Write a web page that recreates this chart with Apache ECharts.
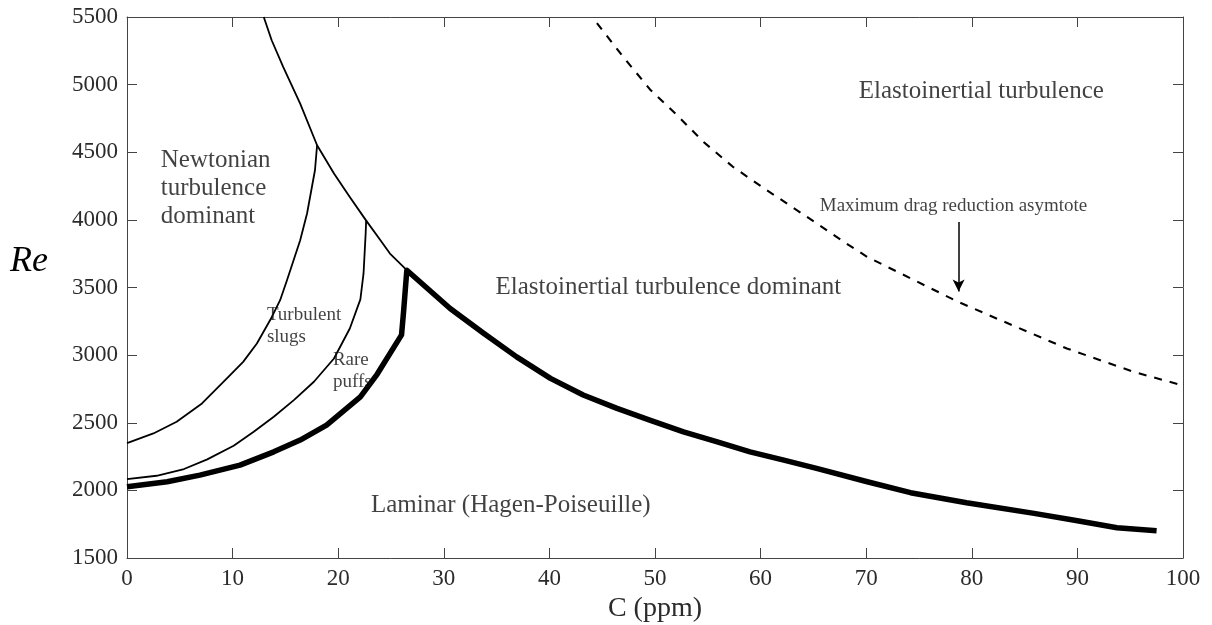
<!DOCTYPE html>
<html>
<head>
<meta charset="utf-8">
<script src="https://cdn.jsdelivr.net/npm/echarts@6/dist/echarts.min.js"></script>
<style>
html,body{margin:0;padding:0;background:#fff;}
#chart{width:1212px;height:625px;}
</style>
</head>
<body>
<div id="chart"></div>
<script>
// ---- data ----
const xTicks = [0,10,20,30,40,50,60,70,80,90,100];
const yTicks = [1500,2000,2500,3000,3500,4000,4500,5000,5500];

// upper (Newtonian / elastoinertial) boundary
const upperC  = [12.95, 13.7, 14.8, 16.4, 18.0, 19.6, 21.0, 22.6, 24.0, 24.9, 26.35];
const upperRe = [5500, 5328, 5130, 4860, 4552, 4343, 4180, 4000, 3850, 3751, 3640];

// turbulent slugs boundary
const slugC  = [0, 2.5, 4.7, 7.1, 9.6, 11.0, 12.3, 13.6, 14.5, 15.15, 16.4, 17.05, 17.8, 18.0];
const slugRe = [2350, 2421, 2507, 2643, 2840, 2950, 3086, 3265, 3406, 3554, 3850, 4047, 4367, 4552];

// rare puffs boundary
const puffC  = [0, 2.8, 5.4, 7.6, 10.1, 12.0, 13.9, 15.8, 17.7, 19.6, 21.1, 22.1, 22.4, 22.6, 22.65];
const puffRe = [2083, 2108, 2158, 2229, 2330, 2433, 2544, 2667, 2803, 2975, 3197, 3412, 3604, 3899, 4000];

// laminar boundary (thick)
const lamC  = [0, 3.8, 6.9, 10.7, 13.9, 16.4, 18.9, 22.1, 23.7, 26.0, 26.2, 26.35, 26.5, 30.6, 33.8, 36.9, 40.1, 43.2, 46.4, 49.5, 52.7, 55.9, 59.0, 62.2, 65.3, 70.1, 74.2, 79.5, 85.9, 90.0, 93.75, 97.5];
const lamRe = [2027, 2064, 2113, 2187, 2285, 2372, 2483, 2692, 2860, 3150, 3330, 3480, 3628, 3345, 3160, 2987, 2828, 2705, 2606, 2520, 2433, 2359, 2285, 2224, 2163, 2064, 1983, 1908, 1830, 1775, 1724, 1702];

// maximum drag reduction asymptote (dashed)
const mdrC  = [44.5, 47.0, 49.6, 52.1, 54.6, 57.4, 60.6, 63.8, 67.9, 70.1, 78.7, 82.7, 89.0, 95.3, 100];
const mdrRe = [5455, 5204, 4958, 4773, 4576, 4391, 4219, 4053, 3837, 3726, 3394, 3259, 3049, 2877, 2775];

// arrow
const arrowC  = [78.75, 78.75];
const arrowRe = [3985, 3470];

// annotations (anchor: left edge, vertical middle, data coords)
const annoText = ['Newtonian\nturbulence\ndominant', 'Elastoinertial turbulence dominant', 'Elastoinertial turbulence', 'Laminar (Hagen-Poiseuille)', 'Turbulent\nslugs', 'Rare\npuffs', 'Maximum drag reduction asymtote'];
const annoC    = [3.2, 34.9, 69.3, 23.1, 13.25, 19.5, 65.6];
const annoRe   = [4234, 3503, 4951, 1891, 3214, 2882, 4103];
const annoSize = ['big','big','big','big','small','small','small'];

// ---- chart ----
const FONT = 'Liberation Serif';
const AX = '#2b2b2b';
const pairs = (xs, ys) => xs.map((x, i) => [x, ys[i]]);

const chart = echarts.init(document.getElementById('chart'), null, {renderer: 'canvas'});

function lineSeries(xs, ys, width, type) {
  return {
    type: 'line', data: pairs(xs, ys), showSymbol: false, symbol: 'none',
    smooth: false, silent: true, clip: true,
    lineStyle: {color: '#000', width: width, type: type || 'solid', join: 'round', cap: 'butt'},
    z: 3
  };
}

const tickCommon = {show: true, inside: true, length: 10, lineStyle: {color: '#444', width: 1}};
const axLine = {show: true, onZero: false, lineStyle: {color: '#444', width: 1}};

const option = {
  animation: false,
  backgroundColor: '#fff',
  grid: {left: 127, right: 29, top: 17, bottom: 67, containLabel: false, outerBoundsMode: 'none'},
  graphic: [{
    type: 'text', x: 29, y: 262, silent: true,
    style: {text: 'Re', font: 'italic 36px "Liberation Serif"', fill: '#000', align: 'center', verticalAlign: 'middle'}
  }],
  xAxis: [
    {
      type: 'value', min: 0, max: 100, interval: 10, position: 'bottom',
      axisLine: axLine,
      axisTick: tickCommon,
      axisLabel: {show: true, fontFamily: FONT, fontSize: 23, color: AX, margin: 9,
        formatter: v => xTicks.includes(v) ? String(v) : ''},
      splitLine: {show: false},
      name: 'C (ppm)', nameLocation: 'middle', nameGap: 37,
      nameTextStyle: {fontFamily: FONT, fontSize: 28, color: AX}
    },
    {
      type: 'value', min: 0, max: 100, interval: 10, position: 'top',
      axisLine: axLine,
      axisTick: tickCommon, axisLabel: {show: false}, splitLine: {show: false}
    }
  ],
  yAxis: [
    {
      type: 'value', min: 1500, max: 5500, interval: 500, position: 'left',
      axisLine: axLine,
      axisTick: tickCommon,
      axisLabel: {show: true, fontFamily: FONT, fontSize: 23, color: AX, margin: 9,
        formatter: v => yTicks.includes(v) ? String(v) : ''},
      splitLine: {show: false}
    },
    {
      type: 'value', min: 1500, max: 5500, interval: 500, position: 'right',
      axisLine: axLine,
      axisTick: tickCommon, axisLabel: {show: false}, splitLine: {show: false}
    }
  ],
  series: [
    lineSeries(upperC, upperRe, 1.8),
    lineSeries(slugC, slugRe, 1.8),
    lineSeries(puffC, puffRe, 1.8),
    lineSeries(lamC, lamRe, 5.5),
    lineSeries(mdrC, mdrRe, 2.1, [8, 8]),
    {
      type: 'line', data: [], silent: true,
      markLine: {
        silent: true, symbol: ['none', 'arrow'], symbolSize: [9, 12],
        lineStyle: {color: '#000', width: 1.5, type: 'solid'},
        label: {show: false},
        data: [[{coord: [arrowC[0], arrowRe[0]]}, {coord: [arrowC[1], arrowRe[1]]}]]
      }
    },
    {
      type: 'scatter', symbolSize: 0, silent: true, z: 5,
      data: annoText.map((t, i) => ({
        value: [annoC[i], annoRe[i]], name: t,
        label: annoSize[i] === 'big'
          ? {fontSize: 25, lineHeight: 28}
          : {fontSize: 19, lineHeight: 22}
      })),
      label: {
        show: true, position: 'right', distance: 0,
        formatter: p => p.name,
        fontFamily: FONT, color: '#111', align: 'left', verticalAlign: 'middle'
      }
    }
  ]
};
chart.setOption(option);
</script>
</body>
</html>
